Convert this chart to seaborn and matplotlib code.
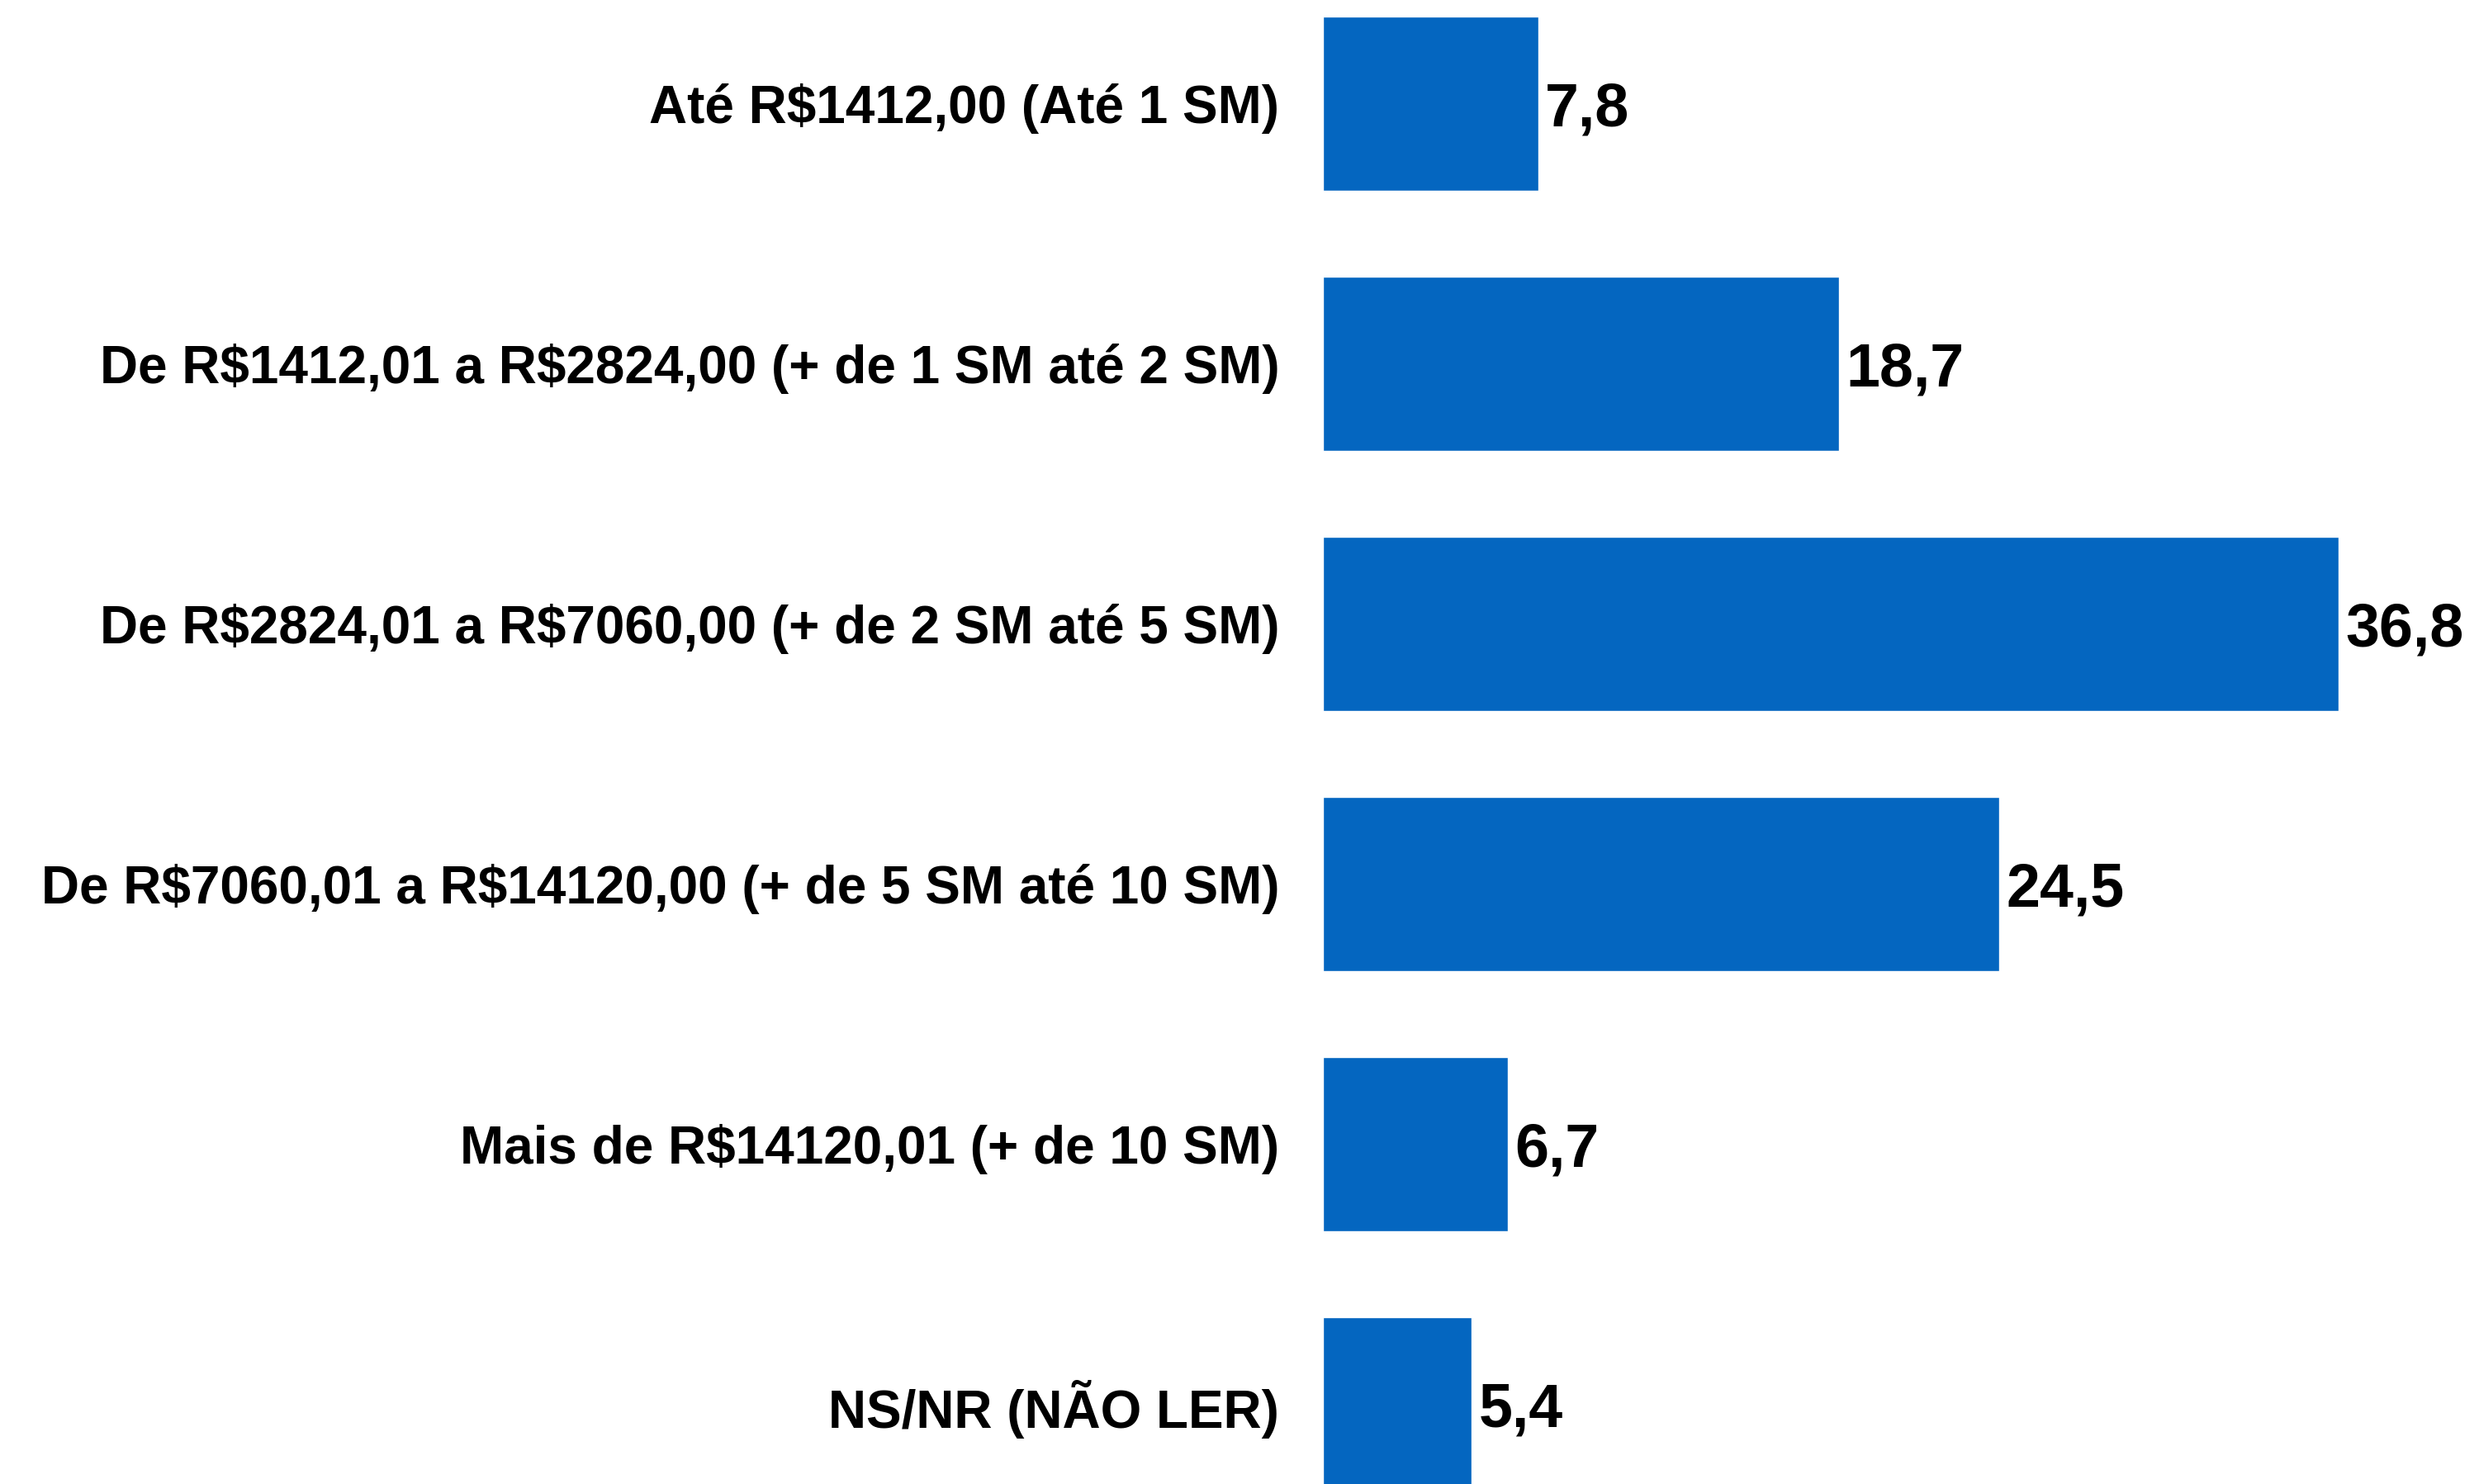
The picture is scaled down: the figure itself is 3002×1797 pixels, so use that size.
import pandas as pd
import matplotlib.pyplot as plt
import seaborn as sns

# Dados do gráfico (renda familiar, %)
categorias = [
    "Até R$1412,00 (Até 1 SM)",
    "De R$1412,01 a R$2824,00 (+ de 1 SM até 2 SM)",
    "De R$2824,01 a R$7060,00 (+ de 2 SM até 5 SM)",
    "De R$7060,01 a R$14120,00 (+ de 5 SM até 10 SM)",
    "Mais de R$14120,01 (+ de 10 SM)",
    "NS/NR (NÃO LER)",
]
valores = [7.8, 18.7, 36.8, 24.5, 6.7, 5.4]

df = pd.DataFrame({"categoria": categorias, "valor": valores})

sns.set_style("white")
plt.rcParams['font.family'] = ['Liberation Sans', 'DejaVu Sans']
plt.rcParams['text.parse_math'] = False

fig = plt.figure(figsize=(30.02, 17.97), dpi=100)
ax = fig.add_axes([1602 / 3002, -61 / 1797, 1337 / 3002, 1890 / 1797])

sns.barplot(data=df, x="valor", y="categoria", orient="h", color="#0466C0",
            saturation=1, width=0.67, ax=ax)

ax.set_xlim(0, 40)
ax.set_ylim(len(categorias) - 0.5, -0.5)

rotulos = [f"{v:.1f}".replace(".", ",") for v in valores]
textos = ax.bar_label(ax.containers[0], labels=rotulos, padding=6,
                      fontsize=53, fontweight="bold", color="black")
for t in textos:
    t.set_verticalalignment("center_baseline")

ax.set_xlabel("")
ax.set_ylabel("")
ax.set_xticks([])
ax.tick_params(axis="y", length=0, pad=38)
for lbl in ax.get_yticklabels():
    lbl.set_fontsize(46)
    lbl.set_fontweight("bold")
    lbl.set_color("black")
sns.despine(ax=ax, left=True, bottom=True)

fig.savefig("out.png", dpi=100)
